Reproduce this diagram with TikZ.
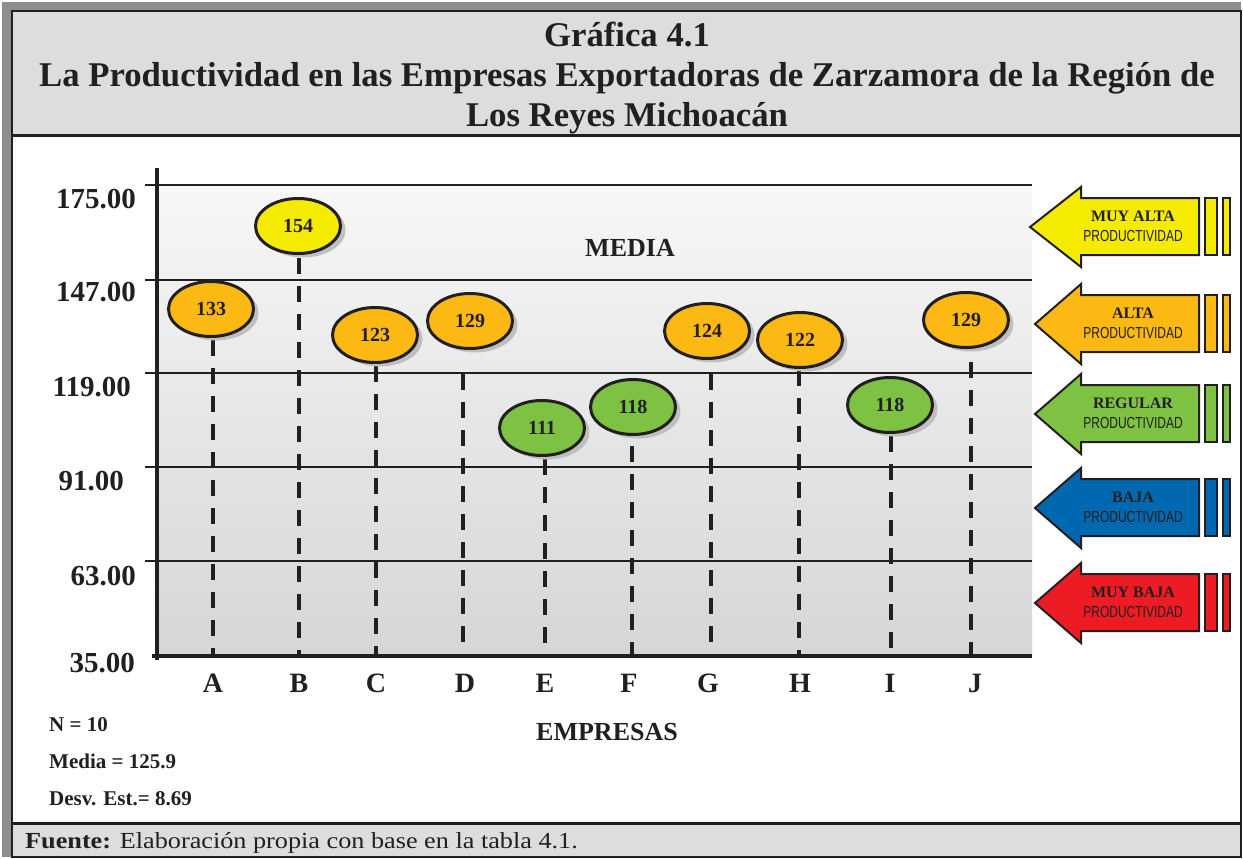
\documentclass[tikz,border=0pt]{standalone}
\usepackage{fontspec}
\setmainfont{Liberation Serif}
\newfontfamily\arialf{Liberation Sans}
\usetikzlibrary{shapes.geometric,shadows}
\definecolor{ink}{HTML}{231F20}
\definecolor{panel}{HTML}{DCDDDE}
\definecolor{edgegray}{HTML}{8C8E90}
\definecolor{cyel}{HTML}{F4EB00}
\definecolor{corg}{HTML}{FDB913}
\definecolor{cgrn}{HTML}{7DC242}
\definecolor{cblu}{HTML}{0067B1}
\definecolor{cred}{HTML}{ED1C24}
\definecolor{gtop}{HTML}{F7F7F7}
\definecolor{gbot}{HTML}{D5D6D8}
\tikzset{
  titlef/.style={font=\fontsize{34.7}{40}\selectfont\bfseries, text=ink, inner sep=0pt, anchor=base},
  ylab/.style={font=\fontsize{29}{32}\selectfont\bfseries, text=ink, inner sep=0pt, anchor=base east},
  xlab/.style={font=\fontsize{28}{32}\selectfont\bfseries, text=ink, inner sep=0pt, anchor=base},
  axtitle/.style={font=\fontsize{26}{30}\selectfont\bfseries, text=ink, inner sep=0pt, anchor=base},
  stat/.style={font=\fontsize{21}{24}\selectfont\bfseries, text=ink, inner sep=0pt, anchor=base west},
  gridline/.style={draw=ink, line width=1.5},
  axisline/.style={draw=ink, line width=3.5},
  dashline/.style={draw=ink, line width=3.5, dash pattern=on 16pt off 12pt},
  bubble/.style={ellipse, draw=ink, line width=3, minimum width=85, minimum height=55, inner sep=0pt,
    font=\fontsize{20}{22}\selectfont\bfseries, text=ink,
    drop shadow={shadow xshift=5pt, shadow yshift=-4pt, fill=black!25, opacity=1}},
  arrowshape/.style={draw=ink, line width=2, line join=miter},
  arrtitle/.style={font=\fontsize{16}{18}\selectfont\bfseries, text=ink, inner sep=0pt},
  arrsub/.style={font=\arialf\fontsize{16}{18}\selectfont, text=ink, inner sep=0pt},
}
\newcommand\prodarrow[5]{%
  \filldraw[arrowshape, fill=#3] (#2,#1) -- (1081,#1-40) -- (1081,#1-29) -- (1199,#1-29) -- (1199,#1+28) -- (1081,#1+28) -- (1081,#1+40) -- cycle;
  \filldraw[arrowshape, fill=#3] (1205,#1-29) rectangle (1217,#1+28);
  \filldraw[arrowshape, fill=#3] (1223,#1-29) rectangle (1230,#1+28);
  \node[arrtitle] (#5a) at (1133,#1-11) {#4};
  \node[arrsub] (#5b) at (1133,#1+9) {\scalebox{0.75}[1]{PRODUCTIVIDAD}};
}
\begin{document}
\begin{tikzpicture}[x=1pt,y=-1pt]
\useasboundingbox (0,0) rectangle (1243,859);
% frame
\fill[edgegray] (2,2) rectangle (1241,857);
\fill[white] (12,11) rectangle (1241,857);
\fill[panel] (12,11) rectangle (1241,135);
\fill[panel] (12,823) rectangle (1241,857);
\draw[ink, line width=2.5] (12,11) rectangle (1241,857);
\draw[ink, line width=3] (12,135) -- (1241,135);
\draw[ink, line width=3] (12,823) -- (1241,823);
% title
\node[titlef] (t1) at (627,47) {Gráfica 4.1};
\node[titlef] (t2) at (627,87) {La Productividad en las Empresas Exportadoras de Zarzamora de la Región de};
\node[titlef] (t3) at (627,126) {Los Reyes Michoacán};
% plot background
\shade[top color=gtop, bottom color=gbot] (159,185) rectangle (1032,655);
% grid
\draw[gridline] (145,185) -- (1032,185);
\draw[gridline] (145,280) -- (1032,280);
\draw[gridline] (145,373) -- (1032,373);
\draw[gridline] (145,467) -- (1032,467);
\draw[gridline] (145,561) -- (1032,561);
% y labels
\node[ylab] (y175) at (136,208) {175.00};
\node[ylab] (y147) at (136,301) {147.00};
\node[ylab] (y119) at (131,396) {119.00};
\node[ylab] (y91) at (124,490) {91.00};
\node[ylab] (y63) at (136,585) {63.00};
\node[ylab] (y35) at (135,672) {35.00};
% dashed lines
\coordinate (Atop) at (213,340); \coordinate (Abot) at (213,655);
\coordinate (Btop) at (299,258); \coordinate (Bbot) at (299,655);
\coordinate (Ctop) at (376,366); \coordinate (Cbot) at (376,655);
\coordinate (Dtop) at (463,374); \coordinate (Dbot) at (463,655);
\coordinate (Etop) at (545,459); \coordinate (Ebot) at (545,655);
\coordinate (Ftop) at (632,446); \coordinate (Fbot) at (632,655);
\coordinate (Gtop) at (711,374); \coordinate (Gbot) at (711,655);
\coordinate (Htop) at (799,370); \coordinate (Hbot) at (799,655);
\coordinate (Itop) at (891,436); \coordinate (Ibot) at (891,655);
\coordinate (Jtop) at (971,362); \coordinate (Jbot) at (971,655);
\foreach \k in {A,B,C,D,E,F,G,H,I,J} {\draw[dashline] (\k top) -- (\k bot);}
% axes
\draw[axisline] (157,168) -- (157,660);
\draw[axisline] (152,656) -- (1032,656);
% bubbles
\node[bubble, fill=corg] (bA) at (211,309) {133};
\node[bubble, fill=cyel] (bB) at (298,226) {154};
\node[bubble, fill=corg] (bC) at (375,335) {123};
\node[bubble, fill=corg] (bD) at (470,321) {129};
\node[bubble, fill=cgrn] (bE) at (542,428) {111};
\node[bubble, fill=cgrn] (bF) at (633,407) {118};
\node[bubble, fill=corg] (bG) at (707,331) {124};
\node[bubble, fill=corg] (bH) at (800,340) {122};
\node[bubble, fill=cgrn] (bI) at (890,405) {118};
\node[bubble, fill=corg] (bJ) at (966,320) {129};
% x labels
\node[xlab] (lA) at (213,692) {A};
\node[xlab] (lB) at (299,692) {B};
\node[xlab] (lC) at (376,692) {C};
\node[xlab] (lD) at (465,692) {D};
\node[xlab] (lE) at (545,692) {E};
\node[xlab] (lF) at (629,692) {F};
\node[xlab] (lG) at (708,692) {G};
\node[xlab] (lH) at (800,692) {H};
\node[xlab] (lI) at (890,692) {I};
\node[xlab] (lJ) at (975,692) {J};
\node[axtitle] (media) at (630,256) {MEDIA};
\node[axtitle] (empresas) at (607,740) {EMPRESAS};
% stats
\node[stat] (sn) at (49,731) {N = 10};
\node[stat] (sm) at (49,768) {Media = 125.9};
\node[stat] (sd) at (49,805) {Desv. Est.= 8.69};
% legend arrows
\prodarrow{227}{1030}{cyel}{MUY ALTA}{ma}
\prodarrow{324}{1035}{corg}{ALTA}{al}
\prodarrow{414}{1035}{cgrn}{REGULAR}{re}
\prodarrow{508}{1035}{cblu}{BAJA}{ba}
\prodarrow{603}{1035}{cred}{MUY BAJA}{mb}
% footer
\node[font=\fontsize{23}{24}\selectfont, text=ink, inner sep=0pt, anchor=base west] (foot) at (25,848) {\scalebox{1.14}[1]{\textbf{Fuente:} Elaboración propia con base en la tabla 4.1.}};
\end{tikzpicture}
\end{document}
